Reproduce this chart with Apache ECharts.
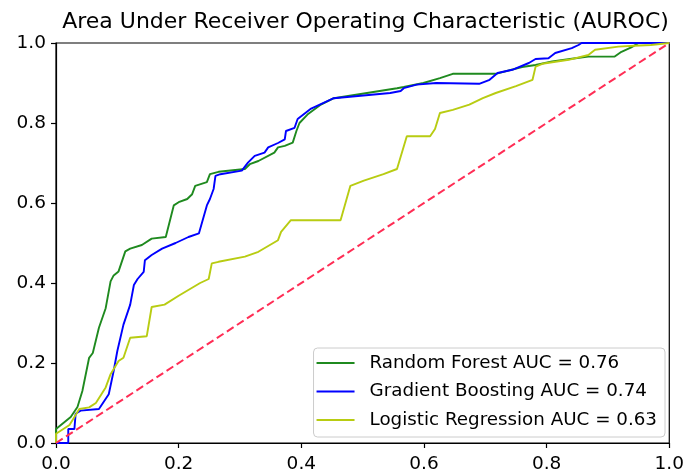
<!DOCTYPE html>
<html>
<head>
<meta charset="utf-8">
<script src="https://cdn.jsdelivr.net/npm/echarts@6/dist/echarts.min.js"></script>
<style>html,body{margin:0;padding:0;background:#fff}#c{width:687px;height:474px}</style>
</head>
<body>
<div id="c"></div>
<script>
const titleText = 'Area Under Receiver Operating Characteristic (AUROC)';
const tickValues = [0, 0.2, 0.4, 0.6, 0.8, 1.0];
const seriesNames = ['Random Forest AUC = 0.76', 'Gradient Boosting AUC = 0.74', 'Logistic Regression AUC = 0.63'];

const rfPoints = [[0,0],[0,0.035],[0.008,0.045],[0.024,0.065],[0.035,0.09],[0.043,0.13],[0.054,0.213],[0.06,0.225],[0.07,0.288],[0.081,0.337],[0.089,0.404],[0.094,0.419],[0.102,0.429],[0.113,0.479],[0.121,0.486],[0.14,0.495],[0.156,0.511],[0.179,0.515],[0.192,0.594],[0.2,0.602],[0.214,0.61],[0.222,0.622],[0.227,0.643],[0.246,0.652],[0.251,0.672],[0.265,0.678],[0.308,0.685],[0.316,0.697],[0.33,0.705],[0.356,0.726],[0.362,0.739],[0.373,0.743],[0.386,0.751],[0.392,0.78],[0.397,0.8],[0.41,0.821],[0.432,0.846],[0.453,0.862],[0.556,0.887],[0.567,0.89],[0.599,0.9],[0.626,0.912],[0.647,0.923],[0.717,0.923],[0.76,0.94],[0.782,0.945],[0.809,0.954],[0.847,0.962],[0.868,0.966],[0.911,0.966],[0.922,0.978],[0.938,0.989],[0.95,1],[1,1]];

const gbPoints = [[0,0],[0.02,0],[0.02,0.035],[0.03,0.035],[0.032,0.073],[0.04,0.081],[0.07,0.085],[0.086,0.122],[0.094,0.18],[0.1,0.23],[0.11,0.296],[0.121,0.346],[0.127,0.395],[0.133,0.41],[0.143,0.428],[0.145,0.457],[0.156,0.47],[0.173,0.486],[0.195,0.5],[0.216,0.515],[0.233,0.524],[0.246,0.594],[0.251,0.61],[0.257,0.635],[0.26,0.668],[0.268,0.672],[0.303,0.681],[0.313,0.701],[0.324,0.718],[0.34,0.726],[0.346,0.739],[0.362,0.75],[0.373,0.759],[0.375,0.78],[0.389,0.788],[0.394,0.81],[0.416,0.836],[0.453,0.862],[0.545,0.875],[0.562,0.88],[0.567,0.887],[0.588,0.896],[0.62,0.9],[0.69,0.898],[0.707,0.908],[0.72,0.925],[0.744,0.933],[0.771,0.95],[0.782,0.96],[0.803,0.962],[0.814,0.975],[0.841,0.987],[0.852,0.995],[0.857,1],[1,1]];

const lrPoints = [[0,0],[0,0.023],[0.022,0.045],[0.03,0.065],[0.038,0.085],[0.054,0.089],[0.065,0.1],[0.081,0.139],[0.089,0.172],[0.102,0.205],[0.11,0.213],[0.121,0.263],[0.148,0.267],[0.156,0.34],[0.177,0.346],[0.2,0.368],[0.235,0.4],[0.249,0.41],[0.254,0.449],[0.265,0.453],[0.308,0.466],[0.33,0.478],[0.362,0.507],[0.367,0.528],[0.383,0.557],[0.464,0.557],[0.48,0.643],[0.502,0.656],[0.534,0.672],[0.556,0.685],[0.572,0.767],[0.61,0.767],[0.618,0.785],[0.626,0.825],[0.647,0.833],[0.674,0.846],[0.696,0.862],[0.717,0.875],[0.75,0.892],[0.777,0.908],[0.782,0.941],[0.793,0.948],[0.836,0.958],[0.868,0.97],[0.879,0.983],[0.917,0.991],[0.943,0.993],[0.97,0.995],[1,1]];

const diagPoints = [[0,0],[1,1]];

const FONT = 'DejaVu Sans';
const chart = echarts.init(document.getElementById('c'), null, {renderer:'canvas'});

const axisCommon = {
  type: 'value', min: 0, max: 1, interval: 0.2,
  axisLine: {show: true, onZero: false, lineStyle: {color: '#000', width: 1.2}},
  axisTick: {show: true, inside: false, length: 5, lineStyle: {color: '#000', width: 1.2}},
  splitLine: {show: false},
  axisLabel: {color: '#000', fontSize: 18.5, fontFamily: FONT, formatter: v => v.toFixed(1)}
};

chart.setOption({
  animation: false,
  backgroundColor: '#fff',
  grid: {left: 56, right: 12, top: 43, bottom: 28, show: true, borderColor: '#000', borderWidth: 1.2, backgroundColor: 'transparent'},
  graphic: [{
    type: 'text', x: 365.5, y: 22,
    style: {text: titleText, fill: '#000', font: '22px "DejaVu Sans"', textAlign: 'center', textVerticalAlign: 'middle'}
  }],
  xAxis: Object.assign({}, axisCommon, {axisLabel: Object.assign({}, axisCommon.axisLabel, {margin: 12})}),
  yAxis: Object.assign({}, axisCommon, {axisLabel: Object.assign({}, axisCommon.axisLabel, {margin: 10})}),
  legend: {
    data: seriesNames,
    orient: 'vertical', right: 22, bottom: 37,
    icon: 'rect', itemWidth: 38, itemHeight: 2, itemGap: 7.5,
    padding: [4.5, 8, 6.5, 3],
    backgroundColor: 'rgba(255,255,255,0.8)', borderColor: '#cccccc', borderWidth: 1, borderRadius: 4,
    textStyle: {color: '#000', fontSize: 18.3, fontFamily: FONT, lineHeight: 21, padding: [0, 0, 0, 10]}
  },
  series: [
    {name: seriesNames[0], type: 'line', data: rfPoints, showSymbol: false, symbol: 'none', color: '#1f8a1f', lineStyle: {color: '#1f8a1f', width: 1.9}},
    {name: seriesNames[1], type: 'line', data: gbPoints, showSymbol: false, symbol: 'none', color: '#0000ff', lineStyle: {color: '#0000ff', width: 1.9}},
    {name: seriesNames[2], type: 'line', data: lrPoints, showSymbol: false, symbol: 'none', color: '#b8cc12', lineStyle: {color: '#b8cc12', width: 1.9}},
    {name: 'diag', type: 'line', data: diagPoints, showSymbol: false, symbol: 'none', color: '#ff2d55', lineStyle: {color: '#ff2d55', width: 2, type: [8, 4]}}
  ]
});
</script>
</body>
</html>
